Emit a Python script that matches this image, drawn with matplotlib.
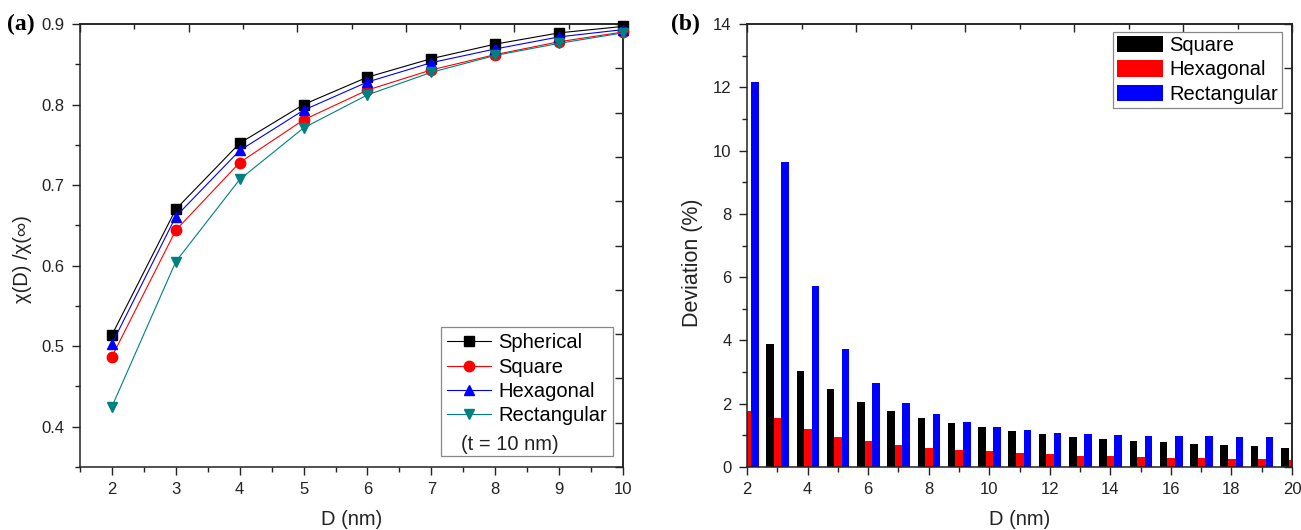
import numpy as np
import matplotlib
matplotlib.use("Agg")
import matplotlib.pyplot as plt
from matplotlib.ticker import MultipleLocator, NullFormatter, FormatStrFormatter
from matplotlib.lines import Line2D

# ---------------- data ----------------
D_a = [2, 3, 4, 5, 6, 7, 8, 9, 10]
spherical = [0.514, 0.670, 0.752, 0.800, 0.834, 0.857, 0.875, 0.889, 0.897]
square = [0.487, 0.644, 0.728, 0.781, 0.818, 0.843, 0.862, 0.878, 0.890]
hexagonal = [0.503, 0.661, 0.743, 0.793, 0.828, 0.852, 0.869, 0.884, 0.893]
rectangular = [0.425, 0.605, 0.707, 0.771, 0.812, 0.840, 0.861, 0.876, 0.889]

D_b = list(range(2, 21))
dev_square = [np.nan, 3.90, 3.02, 2.45, 2.05, 1.77, 1.55, 1.39, 1.25, 1.14,
              1.04, 0.96, 0.90, 0.83, 0.78, 0.74, 0.70, 0.65, 0.61]
dev_hexagonal = [1.76, 1.56, 1.20, 0.96, 0.81, 0.70, 0.61, 0.54, 0.49, 0.44,
                 0.40, 0.36, 0.35, 0.32, 0.30, 0.27, 0.26, 0.25, 0.23]
dev_rectangular = [12.17, 9.64, 5.72, 3.74, 2.65, 2.02, 1.66, 1.41, 1.26, 1.16,
                   1.09, 1.04, 1.01, 0.99, 0.98, 0.97, 0.96, 0.96, np.nan]

TEAL = "#008080"
FONT = "Liberation Sans"
plt.rcParams["font.family"] = [FONT, "DejaVu Sans"]
plt.rcParams["axes.linewidth"] = 1.1
plt.rcParams["axes.edgecolor"] = "#222222"

fig = plt.figure(figsize=(13.01, 5.30), dpi=100)
W, H = 1301, 530

def add_axes(x0, x1, y0, y1):
    return fig.add_axes([x0 / W, 1 - y1 / H, (x1 - x0) / W, (y1 - y0) / H])

axA = add_axes(80, 623, 24, 467)
axB = add_axes(747, 1292, 24, 467)

def style_axis(ax, xlim, ylim, xmaj, xmin, ymaj, ymin):
    ax.set_xlim(*xlim)
    ax.set_ylim(*ylim)
    ax.xaxis.set_major_locator(MultipleLocator(xmaj))
    ax.xaxis.set_minor_locator(MultipleLocator(xmin))
    ax.yaxis.set_major_locator(MultipleLocator(ymaj))
    ax.yaxis.set_minor_locator(MultipleLocator(ymin))
    ax.tick_params(which="both", direction="out", top=False, right=False,
                   color="#222222", width=1.0)
    ax.tick_params(which="major", length=6, pad=5, labelsize=12, labelcolor="#222222")
    ax.tick_params(which="minor", length=3.5)
    # top / right decorative ticks (10 divisions, inward)
    x0, x1 = xlim
    y0, y1 = ylim
    sx = ax.secondary_xaxis("top", functions=(lambda x: (x - x0) / (x1 - x0) * 10,
                                              lambda t: x0 + t / 10 * (x1 - x0)))
    sx.xaxis.set_major_locator(MultipleLocator(2))
    sx.xaxis.set_minor_locator(MultipleLocator(1))
    sx.xaxis.set_major_formatter(NullFormatter())
    sx.tick_params(which="both", direction="in", color="#222222", width=1.0)
    sx.tick_params(which="major", length=6)
    sx.tick_params(which="minor", length=3.5)
    sy = ax.secondary_yaxis("right", functions=(lambda y: (y - y0) / (y1 - y0) * 10,
                                                lambda t: y0 + t / 10 * (y1 - y0)))
    sy.yaxis.set_major_locator(MultipleLocator(1))
    sy.yaxis.set_major_formatter(NullFormatter())
    sy.tick_params(which="both", direction="in", color="#222222", width=1.0, length=6)

# ---------------- panel (a) ----------------
style_axis(axA, (1.5, 10), (0.35, 0.9), 1, 0.5, 0.1, 0.05)
series = [
    (spherical, "black", "s", "Spherical"),
    (square, "red", "o", "Square"),
    (hexagonal, "blue", "^", "Hexagonal"),
    (rectangular, TEAL, "v", "Rectangular"),
]
handles = []
for vals, col, mk, lab in series:
    h, = axA.plot(D_a, vals, color=col, lw=0.8, marker=mk, ms=7.5,
                  mfc=col, mec=col, label=lab, clip_on=False, zorder=3)
    handles.append(h)
axA.set_yticks([0.4, 0.5, 0.6, 0.7, 0.8, 0.9])
axA.yaxis.set_major_formatter(FormatStrFormatter("%.1f"))
blank = Line2D([], [], color="none", marker=None)
legA = axA.legend(handles + [blank], ["Spherical", "Square", "Hexagonal", "Rectangular", " "],
                  loc="lower right", bbox_to_anchor=(0.982, 0.025), borderaxespad=0,
                  fontsize=14.5, frameon=True, fancybox=False, edgecolor="#888888",
                  framealpha=1, handlelength=2.2, handletextpad=0.35,
                  labelspacing=0.27, borderpad=0.3)
legA.get_frame().set_linewidth(0.9)
legA.set_zorder(5)
axA.text((461 - 80) / 543, (467 - 445) / 443, "(t = 10 nm)", transform=axA.transAxes,
         fontsize=14.5, va="center", ha="left", color="#222222", zorder=20)
axA.set_xlabel("D (nm)", fontsize=14.5, color="#222222")
axA.xaxis.set_label_coords(0.5, -0.097)
axA.set_ylabel("χ(D) /χ(∞)", fontsize=14.5, color="#222222")
axA.yaxis.set_label_coords(-0.088, 0.47)

# ---------------- panel (b) ----------------
style_axis(axB, (2, 20), (0, 14), 2, 1, 2, 1)
Db = np.array(D_b, dtype=float)
bw = 0.25
axB.bar(Db - 0.24, dev_square, width=bw, color="black", label="Square", zorder=2)
axB.bar(Db + 0.01, dev_hexagonal, width=bw, color="red", label="Hexagonal", zorder=2)
axB.bar(Db + 0.26, dev_rectangular, width=bw, color="blue", label="Rectangular", zorder=2)
legB = axB.legend(loc="upper right", bbox_to_anchor=(0.982, 0.982), borderaxespad=0,
                  fontsize=14.5, frameon=True, fancybox=False, edgecolor="#888888",
                  framealpha=1, handlelength=2.3, handleheight=0.85, handletextpad=0.3,
                  labelspacing=0.27, borderpad=0.2)
legB.get_frame().set_linewidth(0.9)
axB.set_xlabel("D (nm)", fontsize=14.5, color="#222222")
axB.xaxis.set_label_coords(0.5, -0.097)
axB.set_ylabel("Deviation (%)", fontsize=15.5, color="#222222")
axB.yaxis.set_label_coords(-0.081, 0.46)

# panel labels
fig.text(7 / W, 1 - 24 / H, "(a)", fontsize=17, fontweight="bold",
         family=["Liberation Serif", "DejaVu Serif"], va="center", ha="left")
fig.text(671 / W, 1 - 24 / H, "(b)", fontsize=17, fontweight="bold",
         family=["Liberation Serif", "DejaVu Serif"], va="center", ha="left")

fig.savefig("out.png", dpi=100)
